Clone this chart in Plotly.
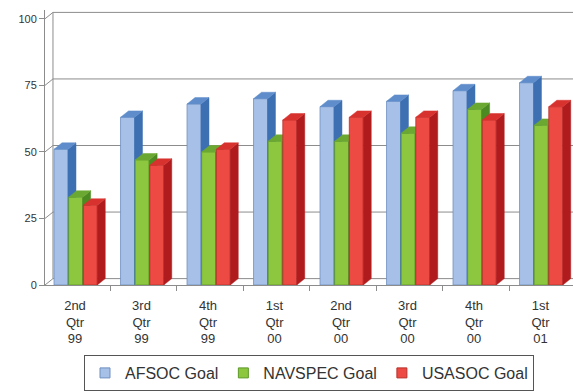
import plotly.graph_objects as go

# ---- data ----
categories = ["2nd<br>Qtr<br>99", "3rd<br>Qtr<br>99", "4th<br>Qtr<br>99", "1st<br>Qtr<br>00",
              "2nd<br>Qtr<br>00", "3rd<br>Qtr<br>00", "4th<br>Qtr<br>00", "1st<br>Qtr<br>01"]
afsoc = [51, 63, 68, 70, 67, 69, 73, 76]
navspec = [33, 47, 50, 54, 54, 57, 66, 60]
usasoc = [30, 45, 51, 62, 63, 63, 62, 67]
series_names = ["AFSOC Goal", "NAVSPEC Goal", "USASOC Goal"]
y_ticks = [0, 25, 50, 75, 100]

# ---- styling / geometry ----
W = 0.21          # bar front width (category units)
DX = 0.12         # 3D depth, x
DY = 2.4          # 3D depth, y
LEFTS = [-0.315, -0.095, 0.125]
XR = [-0.451, 7.489]
YR = [0, 103.3]
colors = [
    dict(front="#A6C0E8", edge="#6F8FC0", side="#3D70B2", top="#5F8DCB"),
    dict(front="#8DC63F", edge="#5E9A2A", side="#4C8A22", top="#6AA832"),
    dict(front="#EC4A43", edge="#B8302C", side="#B01C1E", top="#D8322F"),
]
GRID = "#8C8C8C"

fig = go.Figure()

# back wall + grid
wx, wy = [], []
x_wall = XR[0] + DX
for v in y_ticks[1:]:
    wx += [x_wall, XR[1], None]
    wy += [v + DY, v + DY, None]
for v in y_ticks:
    wx += [XR[0], x_wall, None]
    wy += [v, v + DY, None]
wx += [x_wall, x_wall, None]
wy += [DY, y_ticks[-1] + DY, None]
wx += [x_wall, XR[1], None]
wy += [DY, DY, None]
fig.add_trace(go.Scatter(x=wx, y=wy, mode="lines", line=dict(color=GRID, width=1),
                         showlegend=False, hoverinfo="skip"))

for vals, left, c, name in zip([afsoc, navspec, usasoc], LEFTS, colors, series_names):
    fx, fy, sx, sy, tx, ty = [], [], [], [], [], []
    for k, v in enumerate(vals):
        x0 = k + left
        x1 = x0 + W
        fx += [x0, x1, x1, x0, x0, None]
        fy += [0, 0, v, v, 0, None]
        sx += [x1, x1 + DX, x1 + DX, x1, x1, None]
        sy += [0, DY, v + DY, v, 0, None]
        tx += [x0, x1, x1 + DX, x0 + DX, x0, None]
        ty += [v, v, v + DY, v + DY, v, None]
    fig.add_trace(go.Scatter(x=fx, y=fy, mode="lines", fill="toself", fillcolor=c["front"],
                             line=dict(color=c["edge"], width=0.8), showlegend=False, name=name))
    fig.add_trace(go.Scatter(x=sx, y=sy, mode="lines", fill="toself", fillcolor=c["side"],
                             line=dict(color=c["side"], width=0.5), showlegend=False))
    fig.add_trace(go.Scatter(x=tx, y=ty, mode="lines", fill="toself", fillcolor=c["top"],
                             line=dict(color=c["top"], width=0.5), showlegend=False))
    # legend entry
    fig.add_trace(go.Scatter(x=[None], y=[None], mode="markers", name=name,
                             marker=dict(symbol="square", size=10, color=c["front"],
                                         line=dict(color=c["edge"], width=1))))

fig.update_layout(
    width=573, height=391,
    margin=dict(l=45, r=0, t=10, b=101),
    paper_bgcolor="white", plot_bgcolor="white",
    font=dict(family="Liberation Sans", color="#333333"),
    showlegend=True,
    legend=dict(orientation="h", x=0.5, xanchor="center", y=-0.255, yanchor="top",
                bordercolor="#555555", borderwidth=1, font=dict(size=16, color="#333333"),
                itemwidth=30, tracegroupgap=0),
    xaxis=dict(range=XR, tickmode="array", tickvals=list(range(len(categories))),
               ticktext=categories, ticks="", showline=True, linecolor=GRID, linewidth=1,
               showgrid=False, zeroline=False, tickfont=dict(size=13, color="#333333"),
               ticklabelstandoff=8,
               minor=dict(tickmode="array", tickvals=[k + 0.53 for k in range(len(categories))],
                          ticks="outside", ticklen=5, tickcolor=GRID, showgrid=False)),
    yaxis=dict(range=YR, tickmode="array", tickvals=y_ticks, ticks="outside", ticklen=5,
               tickcolor=GRID, showline=True, linecolor=GRID, linewidth=1, showgrid=False,
               zeroline=False, tickfont=dict(size=11, color="#333333")),
)

fig.write_html("out.html")
